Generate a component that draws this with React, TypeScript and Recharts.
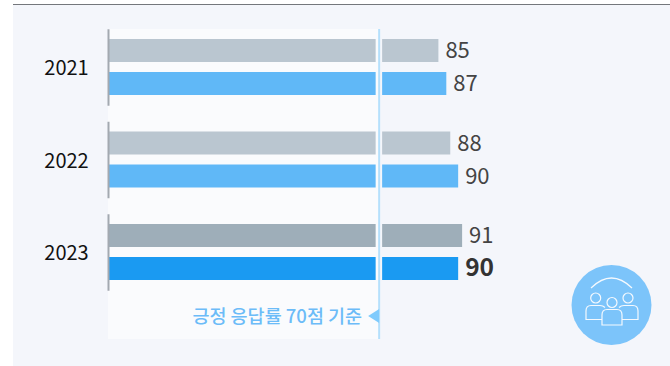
import React from "react";
import { BarChart, Bar, XAxis, YAxis, ReferenceLine, LabelList } from "recharts";

const years = ["2021", "2022", "2023"];
const benchmarkScores = [85, 88, 91];
const ownScores = [87, 90, 90];
const benchmarkColors = ["#bac6d0", "#bac6d0", "#9eaeb9"];
const ownColors = ["#60b8f7", "#60b8f7", "#1a9af2"];
const thresholdValue = 70;
const thresholdLabel = "긍정 응답률 70점 기준";
const axisDomain: [number, number] = [1.5, 125.9];
const tableRows = years.map((year, i) => ({
  year,
  benchmark: benchmarkScores[i],
  own: ownScores[i],
}));

const FONT = '"Noto Sans CJK KR", "Noto Sans", sans-serif';

const splitBar = (colors: string[]) => (props: any) => {
  const { x, y, width, height, index, value } = props;
  const val = Array.isArray(value) ? value[1] : value;
  const perUnit = width / (val - axisDomain[0]);
  const lineX = x + (thresholdValue - axisDomain[0]) * perUnit;
  const fill = colors[index];
  return (
    <g>
      <rect x={x} y={y} width={lineX - 3.5 - x} height={height} fill={fill} />
      <rect x={lineX + 3} y={y} width={x + width - lineX - 3} height={height} fill={fill} />
    </g>
  );
};

const YearTick = (props: any) => {
  const { x, y, payload } = props;
  return (
    <g>
      <line x1={x} x2={x} y1={y - 38} y2={y + 38.5} stroke="#a3a9b0" strokeWidth={2} />
      <text x={x - 42} y={y + 8} textAnchor="middle" fontFamily={FONT} fontSize={20} fill="#111111">
        {payload.value}
      </text>
    </g>
  );
};

const ThresholdMark = (props: any) => {
  const x = props.x1;
  return (
    <g>
      <line x1={x} x2={x} y1={29} y2={339} stroke="#b5e0fc" strokeWidth={2} />
      <polygon points={`${x - 11},316 ${x},309 ${x},323`} fill="#7fcbfd" />
      <text x={x - 17} y={322.5} textAnchor="end" fontFamily={FONT} fontSize={18.5} fontWeight={500} fill="#6cbcf8">
        {thresholdLabel}
      </text>
    </g>
  );
};

const scoreLabel = (boldIndex: number) => (props: any) => {
  const { x, y, width, height, value, index } = props;
  const bold = index === boldIndex;
  return (
    <text
      x={x + width + 7}
      y={y + height / 2 + 7.5}
      fontFamily={FONT}
      fontSize={bold ? 24.5 : 22}
      fontWeight={bold ? 700 : 400}
      fill={bold ? "#333333" : "#444444"}
    >
      {value}
    </text>
  );
};

const PeopleIcon = () => (
  <svg
    width={670}
    height={366}
    style={{ position: "absolute", left: 0, top: 0 }}
  >
    <circle cx={611.5} cy={305} r={40} fill="#7cc4fa" />
    <g fill="none" stroke="#f4f9fe" strokeWidth={1.2}>
      <path d="M591 288 Q611.5 268 632 288" />
      <circle cx={595.7} cy={298} r={5} />
      <circle cx={628} cy={298} r={5} />
      <circle cx={612} cy={302.5} r={5} />
      <path d="M602 319.5 H586 V311 Q586 305.5 591 305.5 H600 Q603 305.5 605 307.5" />
      <path d="M622 319.5 H638 V311 Q638 305.5 633 305.5 H624 Q621 305.5 619 307.5" />
      <path d="M602 315 Q602 309.5 607 309.5 H617 Q622 309.5 622 315 V325 H602 Z" />
    </g>
  </svg>
);

export default function App() {
  return (
    <div style={{ position: "fixed", left: 0, top: 0, width: 670, height: 366, overflow: "hidden", background: "#ffffff" }}>
      <div style={{ position: "absolute", left: 13, top: 4, width: 657, height: 1, background: "#74777c" }} />
      <div style={{ position: "absolute", left: 13, top: 5, width: 657, height: 361, background: "#f4f6fb" }} />
      <div style={{ position: "absolute", left: 108, top: 29, width: 271, height: 310, background: "#fafbfd" }} />
      <div style={{ position: "absolute", left: 0, top: 0 }}>
        <BarChart
          width={670}
          height={366}
          data={tableRows}
          layout="vertical"
          margin={{ top: 21, right: 70, bottom: 67.5, left: 0 }}
          barSize={23}
          barGap={10}
        >
          <XAxis type="number" hide domain={axisDomain} />
          <YAxis
            type="category"
            dataKey="year"
            width={108.5}
            axisLine={false}
            tickLine={false}
            tickSize={0}
            tickMargin={0}
            interval={0}
            tick={<YearTick />}
          />
          <Bar dataKey="benchmark" isAnimationActive={false} shape={splitBar(benchmarkColors)}>
            <LabelList dataKey="benchmark" content={scoreLabel(-1)} />
          </Bar>
          <Bar dataKey="own" isAnimationActive={false} shape={splitBar(ownColors)}>
            <LabelList dataKey="own" content={scoreLabel(2)} />
          </Bar>
          <ReferenceLine x={thresholdValue} shape={<ThresholdMark />} />
        </BarChart>
      </div>
      <PeopleIcon />
    </div>
  );
}
